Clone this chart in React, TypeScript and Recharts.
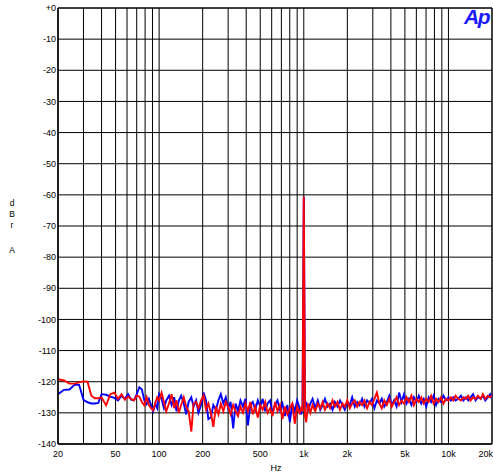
import { LineChart, Line, XAxis, YAxis, CartesianGrid, ReferenceLine } from 'recharts'

// FFT frequencies (Hz)
const FREQ_LOW = [20, 22, 24, 26, 28, 30, 32, 34, 36, 38, 40, 43, 46, 49, 52, 55, 58, 61, 64, 67, 70, 73, 76, 79, 82, 85, 88, 91, 94, 97]
const FREQ_MID = [
  100, 104, 108, 112, 117, 122, 127, 132, 137, 142, 148, 154, 160, 167, 173, 180, 187, 195, 203, 211,
  219, 228, 237, 247, 257, 267, 278, 289, 300, 312, 325, 338, 351, 365, 380, 395, 411, 427, 444, 462,
  481, 500, 520, 541, 562, 585, 608, 633, 658, 684, 712, 740, 770, 801, 833, 866, 900, 936, 960, 980, 1000,
]
const FREQ_HIGH = [
  1020, 1040, 1070, 1110, 1150, 1200, 1250, 1300, 1350, 1400, 1460, 1520, 1580, 1640, 1710, 1780, 1850, 1920, 2000, 2080,
  2160, 2250, 2340, 2430, 2530, 2630, 2740, 2850, 2960, 3080, 3200, 3330, 3460, 3600, 3750, 3900, 4050, 4210, 4380, 4560,
  4740, 4930, 5130, 5330, 5550, 5770, 6000, 6240, 6490, 6750, 7020, 7300, 7590, 7900, 8210, 8540, 8880, 9240, 9610, 10000,
  10400, 10800, 11200, 11700, 12200, 12700, 13200, 13700, 14200, 14800, 15400, 16000, 16700, 17300, 18000, 18700, 19400, 20000,
]

// channel A (blue), dBr
const BLUE_LOW = [
  -124.0, -122.6, -122.5, -121.0, -121.0, -125.8, -126.6, -127.0, -127.0, -126.8,
  -124.0, -124.2, -124.8, -125.2, -126.0, -124.5, -125.5, -124.0, -125.8, -126.0,
  -124.0, -121.8, -122.5, -126.0, -127.2, -125.5, -127.5, -129.5, -127.0, -128.5,
]
const BLUE_MID = [
  -124.0, -125.5, -128.5, -126.0, -124.5, -127.5, -125.0, -129.5, -126.0, -124.5,
  -127.0, -130.5, -126.5, -125.0, -128.0, -126.0, -130.0, -127.5, -123.5, -126.0,
  -132.0, -131.5, -127.5, -129.0, -126.0, -124.0, -127.0, -125.0, -128.5, -126.5,
  -135.0, -127.0, -129.5, -126.0, -128.0, -125.5, -134.0, -127.5, -126.5, -129.0,
  -126.0, -128.0, -125.5, -129.5, -127.0, -126.0, -130.0, -127.5, -126.0, -129.0,
  -127.0, -131.0, -127.5, -133.0, -127.0, -129.5, -126.0, -128.5, -130.5, -128.0, -60.6,
]
const BLUE_HIGH = [
  -128.0, -126.5, -129.5, -127.0, -125.5, -128.5, -126.0, -129.0, -127.5, -125.5,
  -128.0, -127.0, -129.0, -126.5, -128.0, -126.0, -127.5, -129.0, -126.5, -127.5,
  -125.0, -128.0, -126.5, -127.5, -125.5, -128.0, -126.0, -127.0, -125.5, -128.5,
  -126.0, -127.0, -125.5, -128.0, -126.5, -124.5, -127.5, -126.0, -128.0, -123.5,
  -126.5, -124.0, -127.0, -125.5, -127.5, -125.0, -126.5, -124.5, -127.0, -125.5,
  -128.0, -125.0, -126.5, -124.5, -127.5, -125.5, -126.5, -124.5, -126.0, -125.0,
  -126.0, -125.0, -126.0, -125.5, -124.5, -126.0, -125.0, -126.0, -125.0, -124.0,
  -126.0, -125.0, -125.5, -124.5, -126.0, -125.0, -124.0, -125.5,
]

// channel B (red), dBr
const RED_LOW = [
  -119.2, -119.6, -120.6, -120.6, -120.2, -119.9, -120.0, -124.5, -125.3, -125.3,
  -125.0, -127.6, -124.0, -123.5, -125.5, -124.0, -125.8, -124.8, -125.5, -126.0,
  -124.5, -124.8, -126.5, -127.6, -125.0, -127.5, -128.5, -129.2, -127.0, -125.0,
]
const RED_MID = [
  -126.0, -123.5, -126.5, -129.5, -127.0, -124.0, -128.5, -126.0, -130.0, -127.5,
  -125.0, -128.0, -129.5, -136.0, -127.0, -126.5, -128.5, -126.0, -124.5, -129.0,
  -127.0, -130.0, -134.5, -128.0, -130.5, -127.0, -129.5, -126.5, -128.0, -130.5,
  -127.5, -129.5, -131.0, -128.0, -130.0, -127.0, -129.5, -126.5, -130.5, -128.0,
  -131.5, -127.5, -129.0, -126.5, -130.0, -128.5, -131.0, -126.5, -129.5, -127.5,
  -132.0, -128.0, -130.5, -128.5, -127.0, -133.5, -128.0, -130.0, -128.5, -129.5, -60.6,
]
const RED_HIGH = [
  -131.0, -133.0, -127.0, -130.0, -127.5, -129.5, -127.0, -128.5, -126.5, -129.0,
  -127.0, -128.5, -126.0, -128.0, -126.5, -129.0, -127.0, -128.0, -126.0, -128.5,
  -127.0, -126.0, -128.0, -126.5, -127.5, -126.0, -128.5, -126.5, -127.5, -125.5,
  -123.5, -127.0, -128.5, -126.0, -127.5, -125.5, -128.0, -126.5, -125.0, -127.5,
  -126.0, -127.0, -125.0, -126.5, -124.5, -127.5, -125.5, -126.5, -125.0, -127.0,
  -125.5, -126.5, -124.5, -127.0, -125.5, -126.5, -125.0, -127.0, -125.5, -126.0,
  -125.0, -126.0, -124.5, -125.5, -126.0, -125.0, -125.5, -124.5, -126.0, -125.0,
  -125.5, -124.5, -125.5, -124.0, -125.5, -124.5, -125.0, -124.5,
]

const FREQS = [...FREQ_LOW, ...FREQ_MID, ...FREQ_HIGH]
const BLUE = [...BLUE_LOW, ...BLUE_MID, ...BLUE_HIGH]
const RED = [...RED_LOW, ...RED_MID, ...RED_HIGH]

const X_GRID = [
  20, 30, 40, 50, 60, 70, 80, 90, 100, 200, 300, 400, 500, 600, 700, 800, 900,
  1000, 2000, 3000, 4000, 5000, 6000, 7000, 8000, 9000, 10000, 20000,
]
const X_LABELS: Record<number, string> = {
  20: '20', 50: '50', 100: '100', 200: '200', 500: '500',
  1000: '1k', 2000: '2k', 5000: '5k', 10000: '10k', 20000: '20k',
}
const Y_TICKS = [0, -10, -20, -30, -40, -50, -60, -70, -80, -90, -100, -110, -120, -130, -140]
const Y_MINOR = [
  -2, -4, -6, -8, -12, -14, -16, -18, -22, -24, -26, -28, -32, -34, -36, -38, -42, -44, -46, -48,
  -52, -54, -56, -58, -62, -64, -66, -68, -72, -74, -76, -78, -82, -84, -86, -88, -92, -94, -96, -98,
  -102, -104, -106, -108, -112, -114, -116, -118, -122, -124, -126, -128, -132, -134, -136, -138,
]

const data = FREQS.map((f, i) => ({ f, a: BLUE[i], b: RED[i] }))

const font = 'Arial, "Liberation Sans", sans-serif'

function FreqTick(props: any) {
  const { x, y, payload } = props
  const label = X_LABELS[payload.value]
  if (!label) return null
  const last = payload.value === 20000
  return (
    <text x={last ? x + 1 : x} y={y + 8} textAnchor={last ? 'end' : 'middle'} fontSize={9} fontFamily={font} fill="#000">
      {label}
    </text>
  )
}

export default function App() {
  return (
    <div style={{ position: 'absolute', left: 0, top: 0, width: 493, height: 476, background: '#fff', fontFamily: font }}>
      <LineChart width={493} height={476} data={data} margin={{ top: 8, right: 1, left: 0, bottom: 0 }}>
        <CartesianGrid stroke="#000" strokeWidth={1} />
        <XAxis
          dataKey="f"
          type="number"
          scale="log"
          domain={[20, 20000]}
          ticks={X_GRID}
          interval={0}
          allowDataOverflow
          tickLine={false}
          tickSize={0}
          tickMargin={5}
          height={32}
          axisLine={{ stroke: '#000', strokeWidth: 1.5 }}
          tick={<FreqTick />}
        />
        <YAxis
          type="number"
          domain={[-140, 0]}
          ticks={Y_TICKS}
          interval={0}
          allowDataOverflow
          tickFormatter={(v: number) => (v === 0 ? '+0' : String(v))}
          tickLine={false}
          tickSize={0}
          tickMargin={2}
          width={58}
          axisLine={{ stroke: '#000', strokeWidth: 1.5 }}
          tick={{ fill: '#000', fontSize: 9, fontFamily: font }}
        />
        <YAxis
          yAxisId="minor"
          type="number"
          domain={[-140, 0]}
          ticks={Y_MINOR}
          interval={0}
          mirror
          width={0}
          axisLine={false}
          tickSize={5}
          tickLine={{ stroke: '#000', strokeWidth: 1.5 }}
          tickFormatter={() => ''}
        />
        <ReferenceLine x={20000} stroke="#000" />
        <ReferenceLine y={0} stroke="#000" />
        <Line dataKey="a" stroke="#0000ff" strokeWidth={1.9} dot={false} isAnimationActive={false} />
        <Line dataKey="b" stroke="#ff0000" strokeWidth={1.9} dot={false} isAnimationActive={false} />
      </LineChart>
      <div style={{ position: 'absolute', left: 464, top: 6, fontSize: 21, fontWeight: 900, fontStyle: 'italic', color: '#1a1aff', lineHeight: 1, letterSpacing: -1.5 }}>
        Ap
      </div>
      {[['d', 203], ['B', 214], ['r', 225], ['A', 250]].map(([ch, y]) => (
        <div key={ch as string} style={{ position: 'absolute', left: 6, width: 12, top: (y as number) - 5, textAlign: 'center', fontSize: 8.5, lineHeight: '10px' }}>
          {ch}
        </div>
      ))}
      <div style={{ position: 'absolute', left: 256, width: 40, top: 463, textAlign: 'center', fontSize: 9 }}>Hz</div>
    </div>
  )
}
